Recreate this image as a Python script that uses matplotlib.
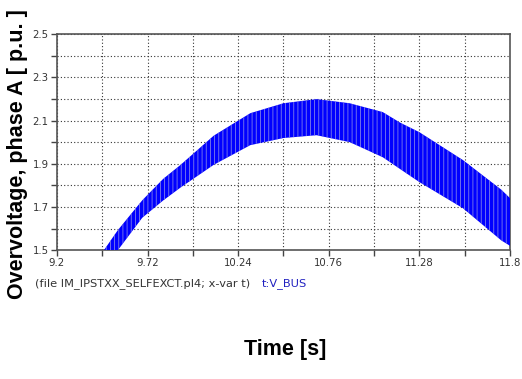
import matplotlib
matplotlib.use("Agg")
import matplotlib.pyplot as plt

# envelope of the V_BUS trace
time_s = [9.40, 9.47, 9.55, 9.69, 9.81, 9.91, 10.10, 10.31, 10.50, 10.69,
          10.88, 11.07, 11.17, 11.28, 11.53, 11.75, 11.80]
upper_pu = [1.43, 1.50, 1.593, 1.731, 1.83, 1.895, 2.03, 2.134, 2.18, 2.199,
            2.18, 2.139, 2.09, 2.046, 1.917, 1.78, 1.741]
lower_pu = [1.36, 1.42, 1.50, 1.65, 1.73, 1.79, 1.895, 1.986, 2.019, 2.032,
            2.00, 1.93, 1.875, 1.815, 1.694, 1.545, 1.52]

x_ticks = [9.2, 9.72, 10.24, 10.76, 11.28, 11.8]
x_tick_labels = ["9.2", "9.72", "10.24", "10.76", "11.28", "11.8"]
y_ticks = [1.5, 1.7, 1.9, 2.1, 2.3, 2.5]
y_tick_labels = ["1.5", "1.7", "1.9", "2.1", "2.3", "2.5"]

plt.rcParams["font.family"] = ["DejaVu Sans"]
plt.rcParams["hatch.linewidth"] = 0.6

fig = plt.figure(figsize=(5.22, 3.79), dpi=100)
ax = fig.add_axes([0.109, 0.340, 0.868, 0.570])

ax.fill_between(time_s, lower_pu, upper_pu, facecolor="#0000ff",
                edgecolor="#8080e8", hatch="||||", linewidth=0, zorder=3)

ax.set_xlim(9.2, 11.8)
ax.set_ylim(1.5, 2.5)
ax.set_xticks(x_ticks)
ax.set_xticklabels(x_tick_labels)
ax.set_xticks([9.46, 9.98, 10.5, 11.02, 11.54], minor=True)
ax.set_yticks(y_ticks)
ax.set_yticklabels(y_tick_labels)
ax.set_yticks([1.6, 1.8, 2.0, 2.2, 2.4], minor=True)

ax.tick_params(which="both", direction="out", length=4, width=1,
               color="#444444", labelsize=7.3, labelcolor="#333333", pad=2)
ax.grid(which="both", color="#333333", linestyle=(0, (1, 2)), linewidth=0.8)
ax.set_axisbelow(True)
for s in ax.spines.values():
    s.set_color("#555555")
    s.set_linewidth(1.2)

bold = ["Liberation Sans", "DejaVu Sans"]
fig.text(0.033, 0.594, "Overvoltage, phase A [ p.u. ]", rotation=90,
         ha="center", va="center", fontsize=15.5, fontweight="bold",
         family=bold)
fig.text(0.546, 0.079, "Time [s]", ha="center", va="center",
         fontsize=15.5, fontweight="bold", family=bold)
fig.text(0.067, 0.253, "(file IM_IPSTXX_SELFEXCT.pl4; x-var t)",
         ha="left", va="center", fontsize=8.2, color="#333333")
fig.text(0.502, 0.253, "t:V_BUS", ha="left", va="center",
         fontsize=8.2, color="#2020c0")

fig.savefig("out.png", dpi=100)
